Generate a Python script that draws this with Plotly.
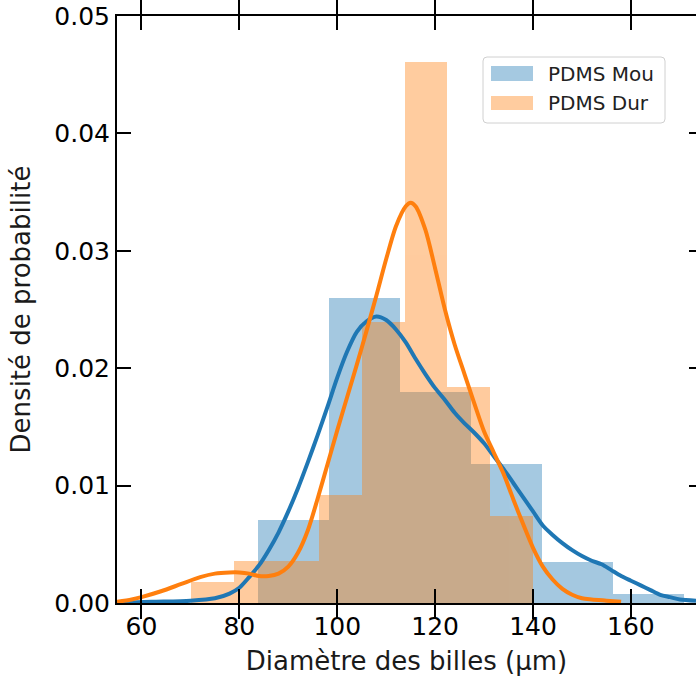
import plotly.graph_objects as go

# ---------------- data ----------------
series_names = ["PDMS Mou", "PDMS Dur"]

mou_bin_edges = [83.75, 98.26, 112.77, 127.28, 141.79, 156.30, 170.81]
mou_density = [0.0071, 0.0260, 0.0180, 0.0118, 0.0035, 0.0008]

dur_bin_edges = [70.14, 78.86, 87.59, 96.31, 105.03, 113.76, 122.48, 131.21, 139.93]
dur_density = [0.0018, 0.0036, 0.0036, 0.0092, 0.0239, 0.0461, 0.0184, 0.0074]

mou_kde_x = [55, 62, 70, 75, 78, 80, 82, 84, 86, 88, 90, 92, 94, 96, 98, 100, 102,
             104, 106, 108, 110, 112, 114, 116, 118, 120, 122, 124, 126, 128, 130,
             132, 134, 136, 138, 140, 142, 144, 146, 148, 150, 152, 154, 156, 158,
             160, 162, 164, 166, 168, 170, 173.3]
mou_kde_y = [0.0000, 0.0001, 0.0002, 0.0004, 0.0008, 0.0013, 0.0022, 0.0032, 0.0045,
             0.0060, 0.0078, 0.0098, 0.0120, 0.0143, 0.0167, 0.0192, 0.0214, 0.0231,
             0.0240, 0.0244, 0.0241, 0.0233, 0.0222, 0.0208, 0.0195, 0.0183, 0.0173,
             0.0162, 0.0153, 0.0145, 0.0136, 0.0125, 0.0114, 0.0102, 0.0090, 0.0078,
             0.0066, 0.0058, 0.0051, 0.0045, 0.0040, 0.0036, 0.0033, 0.0028, 0.0023,
             0.0019, 0.0015, 0.0011, 0.0007, 0.0005, 0.0003, 0.0002]

dur_kde_x = [55, 58, 60, 64, 68, 72, 75, 78, 80, 82, 84, 86, 88, 90, 92, 94, 96, 98,
             100, 102, 104, 106, 108, 110, 112, 114, 115, 116, 118, 120, 122, 124,
             126, 128, 130, 132, 134, 136, 138, 140, 142, 144, 146, 148, 150, 152,
             155, 158]
dur_kde_y = [0.0001, 0.0003, 0.0005, 0.0010, 0.0016, 0.0022, 0.0025, 0.0026, 0.0026,
             0.0025, 0.0023, 0.0023, 0.0025, 0.0031, 0.0043, 0.0062, 0.0089, 0.0118,
             0.0147, 0.0175, 0.0203, 0.0232, 0.0262, 0.0293, 0.0321, 0.0338, 0.0341,
             0.0338, 0.0318, 0.0285, 0.0250, 0.0220, 0.0195, 0.0170, 0.0146, 0.0128,
             0.0110, 0.0088, 0.0067, 0.0047, 0.0031, 0.0020, 0.0012, 0.0007, 0.0004,
             0.0003, 0.0002, 0.0001]

x_ticks = [60, 80, 100, 120, 140, 160]
y_ticks = [0.00, 0.01, 0.02, 0.03, 0.04, 0.05]

x_title = "Diamètre des billes (µm)"
y_title = "Densité de probabilité"

# ---------------- styling ----------------
W, H = 696, 680
ML, MR, MT, MB = 117, 0, 16, 77
BLUE = "#1f77b4"
ORANGE = "#ff7f0e"
FONT = "DejaVu Sans"


def centers(edges):
    return [(a + b) / 2 for a, b in zip(edges[:-1], edges[1:])]


def widths(edges):
    return [b - a for a, b in zip(edges[:-1], edges[1:])]


fig = go.Figure()
fig.add_trace(go.Bar(x=centers(mou_bin_edges), y=mou_density, width=widths(mou_bin_edges),
                     marker=dict(color=BLUE, line=dict(width=0)), opacity=0.4,
                     name=series_names[0], showlegend=False))
fig.add_trace(go.Bar(x=centers(dur_bin_edges), y=dur_density, width=widths(dur_bin_edges),
                     marker=dict(color=ORANGE, line=dict(width=0)), opacity=0.4,
                     name=series_names[1], showlegend=False))
fig.add_trace(go.Scatter(x=mou_kde_x, y=mou_kde_y, mode="lines",
                         line=dict(color=BLUE, width=4, shape="spline", smoothing=0.8),
                         showlegend=False, hoverinfo="skip"))
fig.add_trace(go.Scatter(x=dur_kde_x, y=dur_kde_y, mode="lines",
                         line=dict(color=ORANGE, width=4, shape="spline", smoothing=0.8),
                         showlegend=False, hoverinfo="skip"))
# invisible trace for right-side tick axis
fig.add_trace(go.Scatter(x=[60], y=[0], yaxis="y2", mode="markers",
                         marker=dict(opacity=0), showlegend=False, hoverinfo="skip"))

PW = W - ML - MR
PH = H - MT - MB


def px_x(px):
    return (px - ML) / PW


def px_y(py):
    return (H - MB - py) / PH


# custom legend (matplotlib-like)
shapes = []
lx0, lx1, ly0, ly1 = 483, 665, 57, 123
r = 4
rx, ry = r / PW, r / PH
X0, X1, Yt, Yb = px_x(lx0), px_x(lx1), px_y(ly0), px_y(ly1)
path = (f"M {X0+rx},{Yt} L {X1-rx},{Yt} Q {X1},{Yt} {X1},{Yt-ry} "
        f"L {X1},{Yb+ry} Q {X1},{Yb} {X1-rx},{Yb} L {X0+rx},{Yb} "
        f"Q {X0},{Yb} {X0},{Yb+ry} L {X0},{Yt-ry} Q {X0},{Yt} {X0+rx},{Yt} Z")
shapes.append(dict(type="path", xref="paper", yref="paper", path=path,
                   fillcolor="rgba(255,255,255,0.8)", line=dict(color="#d0d0d0", width=1)))
annotations = []
patch_rows = [(66, 81, BLUE), (96, 110, ORANGE)]
for (y0, y1, col), name in zip(patch_rows, series_names):
    shapes.append(dict(type="rect", xref="paper", yref="paper",
                       x0=px_x(491), x1=px_x(533), y0=px_y(y1), y1=px_y(y0),
                       fillcolor=col, opacity=0.4, line=dict(width=0)))
    annotations.append(dict(xref="paper", yref="paper", x=px_x(546), y=px_y((y0 + y1) / 2),
                            text=name, showarrow=False, xanchor="left", yanchor="middle",
                            font=dict(family=FONT, size=20, color="#222222")))

fig.update_layout(
    width=W, height=H,
    margin=dict(l=ML, r=MR, t=MT, b=MB, pad=0),
    paper_bgcolor="white", plot_bgcolor="white",
    barmode="overlay", bargap=0,
    showlegend=False,
    font=dict(family=FONT, size=24, color="black"),
    shapes=shapes, annotations=annotations,
    xaxis=dict(range=[55.0, 173.3], tickvals=x_ticks, ticktext=[str(v) for v in x_ticks],
               ticks="inside", ticklen=14, tickwidth=2, tickcolor="black",
               showline=True, linewidth=2, linecolor="black", mirror="allticks",
               showgrid=False, zeroline=False,
               tickfont=dict(family=FONT, size=25, color="black"),
               title=dict(text=x_title, standoff=12,
                          font=dict(family=FONT, size=26, color="#1a1a1a"))),
    yaxis=dict(range=[0, 0.05], tickvals=y_ticks, ticktext=[f"{v:.2f}" for v in y_ticks],
               ticks="inside", ticklen=14, tickwidth=2, tickcolor="black",
               showline=True, linewidth=2, linecolor="black", mirror=False,
               showgrid=False, zeroline=False,
               tickfont=dict(family=FONT, size=25, color="black"),
               title=dict(text=y_title, standoff=16,
                          font=dict(family=FONT, size=26, color="#1a1a1a"))),
    yaxis2=dict(range=[0, 0.05], overlaying="y", side="right", tickvals=y_ticks,
                ticks="inside", ticklen=7, tickwidth=2, tickcolor="black",
                showticklabels=False, showline=False, showgrid=False, zeroline=False),
)

fig.write_html("out.html",
               config={"displayModeBar": False},
               post_script="document.body.style.margin='0px';"
                           "document.body.style.overflow='hidden';")
